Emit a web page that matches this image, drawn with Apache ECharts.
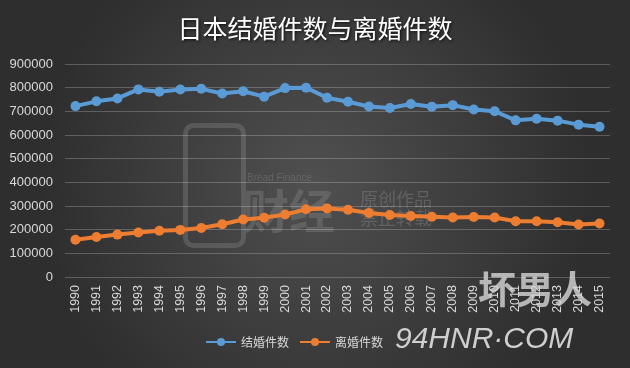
<!DOCTYPE html>
<html>
<head>
<meta charset="utf-8">
<script src="https://cdn.jsdelivr.net/npm/echarts@6/dist/echarts.min.js"></script>
<style>
html,body{margin:0;padding:0;background:#3c3c3c;}
#c{width:630px;height:368px;}
</style>
</head>
<body>
<div id="c"></div>
<script>
const years = ['1990','1991','1992','1993','1994','1995','1996','1997','1998','1999','2000','2001','2002','2003','2004','2005','2006','2007','2008','2009','2010','2011','2012','2013','2014','2015'];
const marriages = [722138,742264,754441,792658,782738,791888,795080,775651,784595,762028,798138,799999,757331,740191,720417,714265,730971,719822,726106,707734,700214,661895,668869,660613,643749,635156];
const divorces = [157608,168969,179191,188297,195106,199016,206955,222635,243183,250529,264246,285911,289836,283854,270804,261917,257475,254832,251136,253353,251378,235719,235406,231383,222107,226215];
const yTicks = { min: 0, max: 900000, interval: 100000 };
const titleText = '日本结婚件数与离婚件数';
const seriesNames = ['结婚件数', '离婚件数'];

const chart = echarts.init(document.getElementById('c'), null, {renderer: 'canvas'});
const font = '"Noto Sans CJK SC", "Liberation Sans", sans-serif';
chart.setOption({
  animation: false,
  backgroundColor: {
    type: 'radial', x: 0.5, y: 0.5, r: 0.75,
    colorStops: [{offset: 0, color: '#505050'}, {offset: 1, color: '#2e2e2e'}]
  },
  title: {
    text: titleText, left: 'center', top: 11,
    textStyle: {color: '#ffffff', fontSize: 25, fontWeight: 'normal', fontFamily: font,
      textShadowColor: 'rgba(0,0,0,0.8)', textShadowBlur: 3, textShadowOffsetX: 1, textShadowOffsetY: 1}
  },
  grid: {left: 65, right: 20, top: 64, bottom: 91, containLabel: false},
  legend: {
    bottom: 15, left: 200, itemWidth: 30, itemHeight: 10, itemGap: 10,
    textStyle: {color: '#d9d9d9', fontSize: 12, fontFamily: font},
    data: seriesNames
  },
  xAxis: {
    type: 'category', data: years, boundaryGap: true,
    axisLine: {show: false}, axisTick: {show: false},
    axisLabel: {rotate: 90, color: '#d9d9d9', fontSize: 12.5, margin: 8, fontFamily: '"Liberation Sans", sans-serif', interval: 0}
  },
  yAxis: {
    type: 'value', min: yTicks.min, max: yTicks.max, interval: yTicks.interval,
    axisLine: {show: false}, axisTick: {show: false},
    axisLabel: {color: '#d9d9d9', fontSize: 13, margin: 12, fontFamily: '"Liberation Sans", sans-serif',
      formatter: function (v) { return String(v); }},
    splitLine: {lineStyle: {color: 'rgba(255,255,255,0.22)', width: 1}}
  },
  graphic: [
    {type: 'rect', left: 183, top: 123, shape: {width: 58, height: 120, r: 8}, style: {fill: 'none', stroke: 'rgba(150,150,150,0.3)', lineWidth: 5}, z: 0},
    {type: 'text', left: 247, top: 173, style: {text: 'Bread Finance', fill: 'rgba(150,150,150,0.35)', font: '10px "Liberation Sans", sans-serif'}, z: 0},
    {type: 'text', left: 243, top: 188, style: {text: '财经', fill: 'rgba(150,150,150,0.3)', font: 'bold 46px "Noto Sans CJK SC", sans-serif'}, z: 0},
    {type: 'text', left: 360, top: 190, style: {text: '原创作品\n禁止转载', fill: 'rgba(150,150,150,0.35)', font: '18px "Noto Sans CJK SC", sans-serif', lineHeight: 19}, z: 0},
    {type: 'text', left: 478, top: 270, style: {text: '坏男人', fill: 'rgba(215,215,215,0.8)', font: 'bold 38px "Noto Sans CJK SC", sans-serif'}, z: 100},
    {type: 'text', left: 395, top: 325, style: {text: '94HNR·COM', fill: '#cfcfcf', font: 'italic 30px "Liberation Sans", sans-serif'}, z: 100}
  ],
  series: [
    {name: seriesNames[0], type: 'line', data: marriages, symbol: 'circle', symbolSize: 10,
      itemStyle: {color: '#5b9bd5'}, lineStyle: {width: 4, color: '#5b9bd5'}, z: 5},
    {name: seriesNames[1], type: 'line', data: divorces, symbol: 'circle', symbolSize: 10,
      itemStyle: {color: '#ed7d31'}, lineStyle: {width: 4, color: '#ed7d31'}, z: 5}
  ]
});
</script>
</body>
</html>
